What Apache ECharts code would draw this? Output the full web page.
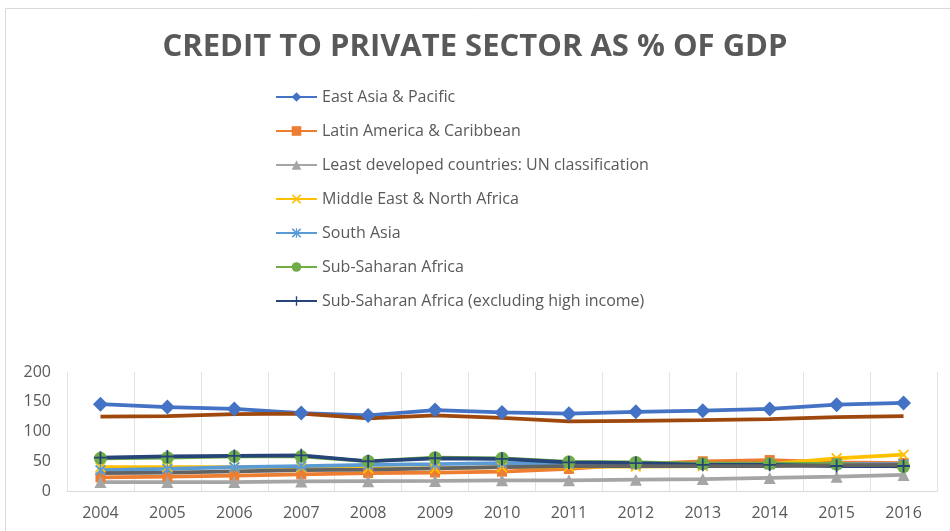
<!DOCTYPE html>
<html>
<head>
<meta charset="utf-8">
<script src="https://cdn.jsdelivr.net/npm/echarts@6/dist/echarts.min.js"></script>
<style>
  html, body { margin: 0; padding: 0; background: #ffffff; }
  #chart { width: 950px; height: 531px; }
</style>
</head>
<body>
<div id="chart"></div>
<script>
// Domestic credit to the private sector, % of GDP, 2004-2016
const years = ['2004', '2005', '2006', '2007', '2008', '2009', '2010', '2011', '2012', '2013', '2014', '2015', '2016'];
const yTicks = [0, 50, 100, 150, 200];

const eastAsiaPacific   = [146, 141, 138, 131, 127, 136, 132, 130, 133, 135, 138, 145, 148];
const latinAmerica      = [23, 24, 26, 28, 30, 31, 32.5, 37, 45, 50, 52, 48, 47];
const leastDeveloped    = [15, 15, 15, 16, 16.5, 17, 18, 18, 19, 20, 22, 24, 27];
const middleEastNAfrica = [40, 40, 40, 40, 38, 38, 40, 41, 41, 42, 45, 55, 61];
const southAsia         = [35, 37, 40, 42, 44, 45, 47, 46, 45, 45, 45, 45, 45];
const subSaharan        = [55, 56, 58, 58, 50, 56, 55, 49, 48, 46, 46, 45, 41];
const subSaharanExHigh  = [56, 58, 59, 60, 50, 55, 54, 48, 47, 44, 44, 42, 42];
const series8           = [125, 126, 129, 130, 122, 127, 123, 117, 118, 119, 121, 124, 126];
const series9           = [30, 31, 33, 35, 36, 38, 40, 42, 42, 42, 42, 43, 44];

const SYM_X = 'path://M0,1.2L1.2,0L5,3.8L8.8,0L10,1.2L6.2,5L10,8.8L8.8,10L5,6.2L1.2,10L0,8.8L3.8,5Z';
const SYM_STAR = 'path://M0,1.2L1.2,0L4.4,3.2V0H5.6V3.2L8.8,0L10,1.2L6.2,5L10,8.8L8.8,10L5.6,6.8V10H4.4V6.8L1.2,10L0,8.8L3.8,5Z';
const SYM_PLUS = 'path://M4.3,0H5.7V4.3H10V5.7H5.7V10H4.3V5.7H0V4.3H4.3Z';

function line(name, data, color, symbol, size) {
  return {
    name: name,
    type: 'line',
    data: data,
    symbol: symbol,
    symbolSize: size,
    showSymbol: symbol !== 'none',
    lineStyle: { color: color, width: 3.75 },
    itemStyle: { color: color },
    emphasis: { disabled: true },
    animation: false
  };
}

const legendNames = [
  'East Asia & Pacific',
  'Latin America & Caribbean',
  'Least developed countries: UN classification',
  'Middle East & North Africa',
  'South Asia',
  'Sub-Saharan Africa',
  'Sub-Saharan Africa (excluding high income)'
];

const chart = echarts.init(document.getElementById('chart'), null, { renderer: 'canvas' });
chart.setOption({
  backgroundColor: '#ffffff',
  animation: false,
  title: {
    text: 'CREDIT TO PRIVATE SECTOR AS % OF GDP',
    left: 'center',
    top: 27,
    textStyle: {
      fontFamily: 'Open Sans',
      fontWeight: 'bold',
      fontSize: 31,
      color: '#595959'
    }
  },
  graphic: [{
    type: 'rect',
    shape: { x: 5.5, y: 8.5, width: 960, height: 540 },
    style: { fill: 'none', stroke: '#d9d9d9', lineWidth: 1 },
    silent: true
  }],
  legend: {
    data: legendNames,
    orient: 'vertical',
    left: 270,
    top: 84,
    itemWidth: 41,
    itemHeight: 12,
    itemGap: 18,
    textStyle: { fontFamily: 'Open Sans', fontSize: 16, color: '#595959' }
  },
  grid: { left: 67, right: 13, top: 372, bottom: 40 },
  xAxis: {
    type: 'category',
    data: years,
    boundaryGap: true,
    axisLine: { lineStyle: { color: '#d9d9d9', width: 1 } },
    axisTick: { show: false },
    axisLabel: { color: '#595959', fontFamily: 'Open Sans', fontSize: 16, margin: 14 },
    splitLine: { show: true, lineStyle: { color: '#e3e3e3', width: 1 } }
  },
  yAxis: {
    type: 'value',
    min: yTicks[0],
    max: yTicks[yTicks.length - 1],
    interval: yTicks[1] - yTicks[0],
    axisLine: { show: false },
    axisTick: { show: false },
    splitLine: { show: false },
    axisLabel: { color: '#595959', fontFamily: 'Open Sans', fontSize: 16, margin: 16 }
  },
  series: [
    line('East Asia & Pacific', eastAsiaPacific, '#4472C4', 'diamond', 15),
    line('Latin America & Caribbean', latinAmerica, '#ED7D31', 'rect', 10),
    line('Least developed countries: UN classification', leastDeveloped, '#A5A5A5', 'triangle', 12),
    line('Middle East & North Africa', middleEastNAfrica, '#FFC000', SYM_X, 11),
    line('South Asia', southAsia, '#5B9BD5', SYM_STAR, 11),
    line('Sub-Saharan Africa', subSaharan, '#70AD47', 'circle', 13),
    line('Sub-Saharan Africa (excluding high income)', subSaharanExHigh, '#264478', SYM_PLUS, 13),
    line('Series 8', series8, '#9E480E', 'none', 0),
    line('Series 9', series9, '#636363', 'none', 0)
  ]
});
</script>
</body>
</html>
